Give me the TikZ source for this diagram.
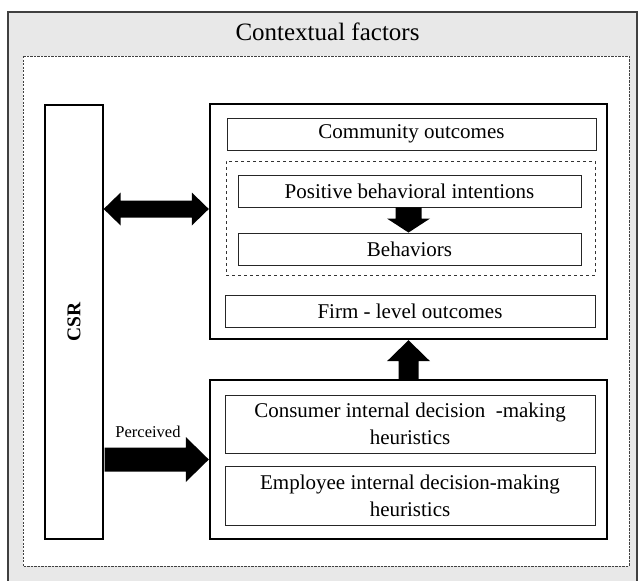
\documentclass[tikz,border=0pt]{standalone}
\usepackage{fontspec}
\setmainfont{Liberation Serif}
\usetikzlibrary{calc}
\begin{document}
\begin{tikzpicture}[x=1pt,y=-1pt,
  inbox/.style={draw=black!85,line width=0.9pt,fill=white,inner sep=0pt,align=center,
    font=\fontsize{21}{27}\selectfont},
  bigbox/.style={draw=black,line width=2.4pt,fill=white},
  blockarrow/.style={fill=black,draw=none}]
\useasboundingbox (0,0) rectangle (638,581);
% context frame
\path[fill=black!9,draw=black!75,line width=1.3pt] (8,12) rectangle (637,600);
\node[font=\fontsize{25}{29}\selectfont] (ctx) at (327.5,32) {Contextual factors};
\path[fill=white,draw=black!75,line width=0.9pt,dash pattern=on 2.2pt off 1.3pt] (23,56) rectangle (629,566);
% CSR column
\node[draw=black,line width=1.3pt,fill=white,minimum width=58pt,minimum height=434pt,inner sep=0pt] (csr) at (74,322) {};
\node[rotate=90,font=\fontsize{19.5}{22}\selectfont\bfseries] at (csr.center) {CSR};
% outcome block
\node[bigbox,minimum width=397pt,minimum height=235pt,inner sep=0pt] (top) at (408.5,221.5) {};
\node[inbox,minimum width=369pt,minimum height=32pt] (comm) at (411.5,134) {Community outcomes};
\node[draw=black!80,line width=0.9pt,dashed,minimum width=369pt,minimum height=114pt,inner sep=0pt] (beh) at (410.5,218) {};
\node[inbox,minimum width=343pt,minimum height=32pt] (pbi) at (409.5,191) {Positive behavioral intentions};
\node[inbox,minimum width=343pt,minimum height=32pt] (bhv) at (409.5,249) {Behaviors};
\node[inbox,minimum width=370pt,minimum height=32pt] (firm) at (410,311) {Firm - level outcomes};
% heuristics block
\node[bigbox,minimum width=397pt,minimum height=159pt,inner sep=0pt] (bot) at (408.5,459.5) {};
\node[inbox,minimum width=370pt,minimum height=58pt] (cons) at (410,424) {Consumer internal decision \ -making\\heuristics};
\node[inbox,minimum width=370pt,minimum height=59pt] (empl) at (410,495.5) {Employee internal decision-making\\heuristics};
% CSR <-> outcomes
\coordinate (dl) at (csr.east |- 0,209);
\coordinate (dr) at (top.west |- 0,209);
\fill[blockarrow] (dl) -- ($(dl)+(17,-16.5)$) -- ($(dl)+(17,-8.5)$) -- ($(dr)+(-17,-8.5)$) -- ($(dr)+(-17,-16.5)$)
  -- (dr) -- ($(dr)+(-17,16.5)$) -- ($(dr)+(-17,8.5)$) -- ($(dl)+(17,8.5)$) -- ($(dl)+(17,16.5)$) -- cycle;
% perceived CSR -> heuristics
\coordinate (pl) at (csr.east |- 0,459.5);
\coordinate (pr) at (bot.west |- 0,459.5);
\fill[blockarrow] ($(pl)+(1,-12)$) -- ($(pr)+(-23,-12)$) -- ($(pr)+(-23,-22.5)$) -- (pr)
  -- ($(pr)+(-23,22.5)$) -- ($(pr)+(-23,12)$) -- ($(pl)+(1,12)$) -- cycle;
\node[font=\fontsize{16.5}{19}\selectfont] (perc) at (148,432) {Perceived};
% intentions -> behaviors
\coordinate (it) at (408.5,0 |- pbi.south);
\coordinate (ib) at (408.5,0 |- bhv.north);
\fill[blockarrow] ($(it)+(-13,0)$) -- ($(it)+(13,0)$) -- ($(ib)+(13,-14)$) -- ($(ib)+(21.5,-14)$) -- (ib)
  -- ($(ib)+(-21.5,-14)$) -- ($(ib)+(-13,-14)$) -- cycle;
% heuristics -> outcomes
\coordinate (ut) at (408.5,0 |- top.south);
\coordinate (ub) at (408.5,0 |- bot.north);
\fill[blockarrow] ($(ub)+(-10,0)$) -- ($(ub)+(10,0)$) -- ($(ut)+(10,21)$) -- ($(ut)+(21.5,21)$) -- (ut)
  -- ($(ut)+(-21.5,21)$) -- ($(ut)+(-10,21)$) -- cycle;
\end{tikzpicture}
\end{document}
